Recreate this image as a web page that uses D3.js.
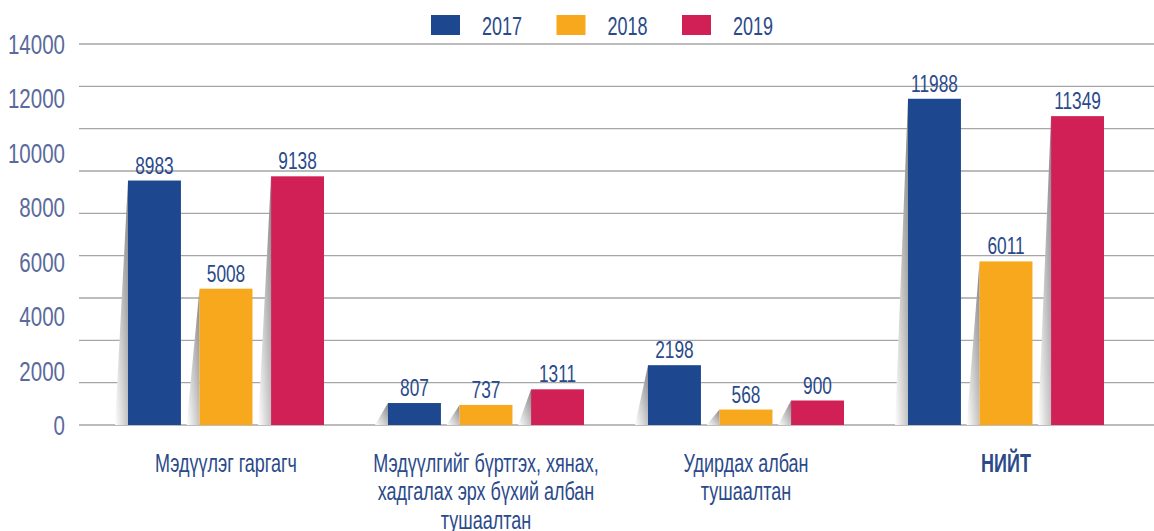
<!DOCTYPE html>
<html>
<head>
<meta charset="utf-8">
<script src="https://cdn.jsdelivr.net/npm/d3@7"></script>
<style>
  body { margin: 0; background: #fff; }
  text { font-family: "Liberation Sans", Arial, sans-serif; }
</style>
</head>
<body>
<svg id="paper" width="1154" height="531"></svg>
<script>
// data
const categories = [
    ["Мэдүүлэг гаргагч"],
    ["Мэдүүлгийг бүртгэх, хянах,", "хадгалах эрх бүхий албан", "тушаалтан"],
    ["Удирдах албан", "тушаалтан"],
    ["НИЙТ"]
];
const years = ["2017", "2018", "2019"];
const values2017 = [8983, 807, 2198, 11988];
const values2018 = [5008, 737, 568, 6011];
const values2019 = [9138, 1311, 900, 11349];
const yTicks = [0, 2000, 4000, 6000, 8000, 10000, 12000, 14000];

let color = d3.scaleOrdinal().domain(years).range(["#1d4890", "#f8a81d", "#d12056"]);
const series = [values2017, values2018, values2019];

// the source font is a condensed grotesque, so squeeze the text sideways
const squeeze = 0.72;
function place(x, y) {
    return "translate(" + x + "," + y + ") scale(" + squeeze + ",1)";
}

var svg = d3.select("#paper");
var defs = svg.append("defs");

// shadow gradient
var grad = defs.append("linearGradient")
    .attr("id", "shade")
    .attr("x1", 1).attr("y1", 0).attr("x2", 0).attr("y2", 1);
grad.append("stop").attr("offset", "0%").attr("stop-color", "#858585");
grad.append("stop").attr("offset", "55%").attr("stop-color", "#cacaca");
grad.append("stop").attr("offset", "100%").attr("stop-color", "#ffffff");

// scales
var y = d3.scaleLinear().domain([0, 14000]).range([425, 44]);
// decorative grid has 9 even gaps over the same span
var gridY = d3.scaleLinear().domain([0, 9]).range([425, 44]);
var x0 = d3.scaleBand().domain(d3.range(categories.length)).range([96, 1136]);
var x1 = d3.scaleBand().domain(years).range([-98, 98]).paddingInner(0.26).paddingOuter(0);

// grid lines
svg.append("g").selectAll("line")
    .data(d3.range(10))
    .enter().append("line")
    .attr("x1", 79).attr("x2", 1154)
    .attr("y1", d => gridY(d)).attr("y2", d => gridY(d))
    .attr("stroke", "#a6a6a6")
    .attr("stroke-width", 1.3);

// y axis labels
svg.append("g").selectAll("text")
    .data(yTicks)
    .enter().append("text")
    .attr("transform", d => place(65, y(d) + 10))
    .attr("text-anchor", "end")
    .attr("fill", "#5a6a9c")
    .style("font-size", "28.5px")
    .text(d => d);

// groups
var group = svg.selectAll(".group")
    .data(categories)
    .enter().append("g")
    .attr("class", "group")
    .attr("transform", (d, i) => "translate(" + (x0(i) + x0.bandwidth() / 2) + ",0)");

var bars = group.selectAll(".bar")
    .data((d, i) => years.map((yr, k) => ({year: yr, value: series[k][i]})))
    .enter().append("g")
    .attr("class", "bar");

// shadow wedge left of each bar
bars.append("path")
    .attr("d", d => {
        let bx = x1(d.year), top = y(d.value), bot = y(0);
        return "M" + bx + "," + top + "L" + (bx - 13) + "," + bot + "L" + bx + "," + bot + "Z";
    })
    .attr("fill", "url(#shade)");

bars.append("rect")
    .attr("x", d => x1(d.year))
    .attr("y", d => y(d.value))
    .attr("width", x1.bandwidth())
    .attr("height", d => y(0) - y(d.value))
    .attr("fill", d => color(d.year));

bars.append("text")
    .attr("transform", d => place(x1(d.year) + x1.bandwidth() / 2, y(d.value) - 7))
    .attr("text-anchor", "middle")
    .attr("fill", "#2a4a8a")
    .style("font-size", "24px")
    .text(d => d.value);

// category labels
group.selectAll(".cat")
    .data((d, i) => d.map((line, j) => ({line: line, j: j, bold: i === categories.length - 1})))
    .enter().append("text")
    .attr("class", "cat")
    .attr("transform", d => place(0, 472 + d.j * 28.3))
    .attr("text-anchor", "middle")
    .attr("fill", "#2a4a8a")
    .style("font-size", "25px")
    .style("font-weight", d => d.bold ? "bold" : "normal")
    .text(d => d.line);

// legend
var legend = svg.append("g").selectAll("g")
    .data(years)
    .enter().append("g")
    .attr("transform", (d, i) => "translate(" + (431 + i * 125.5) + ",15)");
legend.append("rect")
    .attr("width", 29).attr("height", 20)
    .attr("fill", d => color(d));
legend.append("text")
    .attr("transform", place(51, 19.5))
    .attr("fill", "#2a4a8a")
    .style("font-size", "25px")
    .text(d => d);
</script>
</body>
</html>
